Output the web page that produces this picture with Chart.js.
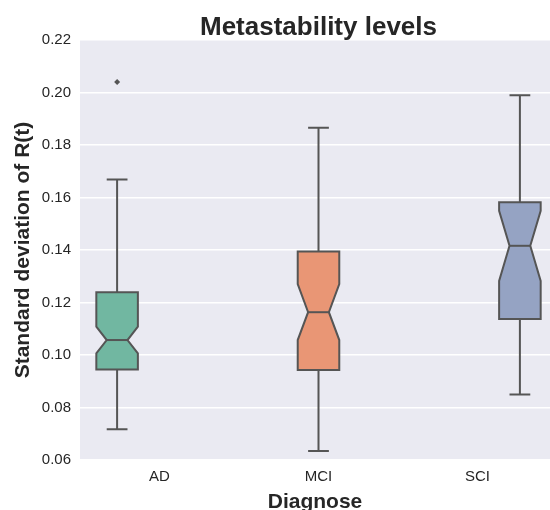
<!DOCTYPE html>
<html>
<head>
<meta charset="utf-8">
<script src="https://cdn.jsdelivr.net/npm/chart.js@4/dist/chart.umd.min.js"></script>
<style>
    html, body { margin: 0; padding: 0; background: #fff; overflow: hidden; }
    #wrap { width: 550px; height: 510px; position: relative; }
</style>
</head>
<body>
<div id="wrap"><canvas id="chart"></canvas></div>
<script>
// カテゴリ
const categories = ['AD', 'MCI', 'SCI'];

// 箱ひげ図の統計値
const whiskerLow  = [0.0717, 0.0634, 0.0850];
const q1          = [0.0945, 0.0943, 0.1137];
const notchLow    = [0.1006, 0.1057, 0.1282];
const median      = [0.1057, 0.1163, 0.1416];
const notchHigh   = [0.1108, 0.1270, 0.1549];
const q3          = [0.1239, 0.1394, 0.1582];
const whiskerHigh = [0.1669, 0.1866, 0.1990];

// 外れ値 (カテゴリ番号, 値)
const outlierCat = [0];
const outlierVal = [0.204];

// 色
const boxColors = ['#71b7a1', '#e99675', '#95a3c3'];
const lineColor = '#555555';
const textColor = '#262626';
const fontFamily = '"Liberation Sans", Arial, sans-serif';
const titleText = 'Metastability levels';

// hue で並べた時のずれ (seaborn の dodge)
const eachWidth = 0.8 / categories.length;
const dodge = categories.map((c, i) => (i - (categories.length - 1) / 2) * eachWidth);
const boxWidth = eachWidth * 0.98;

// 背景
const bgPlugin = {
    id: 'plotBg',
    beforeDraw(chart) {
        const { ctx, chartArea: a } = chart;
        ctx.save();
        ctx.fillStyle = '#eaeaf2';
        ctx.fillRect(a.left, a.top, a.right - a.left, a.bottom - a.top);
        ctx.restore();
    }
};

// タイトル (軸全体の中央に配置)
const titlePlugin = {
    id: 'axesTitle',
    afterDraw(chart) {
        const { ctx } = chart;
        const xs = chart.scales.x;
        const cx = (xs.getPixelForValue(-0.5) + xs.getPixelForValue(categories.length - 0.5)) / 2;
        ctx.save();
        ctx.font = 'bold 26px ' + fontFamily;
        ctx.fillStyle = textColor;
        ctx.textAlign = 'center';
        ctx.textBaseline = 'alphabetic';
        ctx.fillText(titleText, cx, 35);
        ctx.restore();
    }
};

// ノッチ付き箱ひげ図を描画
const boxPlugin = {
    id: 'notchedBox',
    beforeDatasetsDraw(chart) {
        const { ctx } = chart;
        const xs = chart.scales.x;
        const ys = chart.scales.y;
        ctx.save();
        ctx.lineWidth = 2;
        ctx.strokeStyle = lineColor;
        ctx.lineJoin = 'miter';
        categories.forEach((c, i) => {
            const pos = i + dodge[i];
            const cx = xs.getPixelForValue(pos);
            const L = xs.getPixelForValue(pos - boxWidth / 2);
            const R = xs.getPixelForValue(pos + boxWidth / 2);
            const wl = xs.getPixelForValue(pos - boxWidth / 4);
            const wr = xs.getPixelForValue(pos + boxWidth / 4);
            const y = v => ys.getPixelForValue(v);

            // ひげ
            ctx.beginPath();
            ctx.moveTo(cx, y(q3[i]));
            ctx.lineTo(cx, y(whiskerHigh[i]));
            ctx.moveTo(cx, y(q1[i]));
            ctx.lineTo(cx, y(whiskerLow[i]));
            ctx.moveTo(wl, y(whiskerHigh[i]));
            ctx.lineTo(wr, y(whiskerHigh[i]));
            ctx.moveTo(wl, y(whiskerLow[i]));
            ctx.lineTo(wr, y(whiskerLow[i]));
            ctx.stroke();

            // 箱
            ctx.beginPath();
            ctx.moveTo(L, y(q1[i]));
            ctx.lineTo(L, y(notchLow[i]));
            ctx.lineTo(wl, y(median[i]));
            ctx.lineTo(L, y(notchHigh[i]));
            ctx.lineTo(L, y(q3[i]));
            ctx.lineTo(R, y(q3[i]));
            ctx.lineTo(R, y(notchHigh[i]));
            ctx.lineTo(wr, y(median[i]));
            ctx.lineTo(R, y(notchLow[i]));
            ctx.lineTo(R, y(q1[i]));
            ctx.closePath();
            ctx.fillStyle = boxColors[i];
            ctx.fill();
            ctx.stroke();

            // 中央値
            ctx.beginPath();
            ctx.moveTo(wl, y(median[i]));
            ctx.lineTo(wr, y(median[i]));
            ctx.stroke();
        });
        ctx.restore();
    }
};

const ctx = document.getElementById('chart').getContext('2d');
new Chart(ctx, {
    type: 'scatter',
    data: {
        datasets: [{
            data: outlierCat.map((c, k) => ({ x: c + dodge[c], y: outlierVal[k] })),
            pointStyle: 'rectRot',
            radius: 3,
            backgroundColor: lineColor,
            borderWidth: 0
        }]
    },
    options: {
        responsive: true,
        maintainAspectRatio: false,
        animation: false,
        layout: { autoPadding: false, padding: { top: 40, left: 0, right: 0, bottom: 0 } },
        plugins: {
            legend: { display: false },
            tooltip: { enabled: false },
            title: { display: false }
        },
        scales: {
            x: {
                type: 'linear',
                min: -0.5,
                max: 2.456,
                afterBuildTicks(s) {
                    s.ticks = categories.map((c, i) => ({ value: i }));
                },
                afterFit(s) {
                    s.height = 50;
                    s.paddingLeft = 0;
                    s.paddingRight = 0;
                },
                grid: { display: false, drawTicks: false },
                border: { display: false },
                ticks: {
                    autoSkip: false,
                    maxRotation: 0,
                    padding: 8,
                    color: textColor,
                    font: { family: fontFamily, size: 15 },
                    callback: v => categories[v]
                },
                title: {
                    display: true,
                    text: 'Diagnose',
                    color: textColor,
                    font: { family: fontFamily, size: 21, weight: 'bold', lineHeight: 1 },
                    padding: { top: 0, bottom: -3 }
                }
            },
            y: {
                min: 0.06,
                max: 0.22,
                afterFit(s) { s.width = 80; },
                grid: { color: '#ffffff', lineWidth: 1.5, drawTicks: false },
                border: { display: false },
                ticks: {
                    stepSize: 0.02,
                    padding: 9,
                    color: textColor,
                    font: { family: fontFamily, size: 15 },
                    callback: v => v.toFixed(2)
                },
                title: {
                    display: true,
                    text: 'Standard deviation of R(t)',
                    color: textColor,
                    font: { family: fontFamily, size: 21, weight: 'bold', lineHeight: 1 },
                    padding: { top: 13, bottom: 0 }
                }
            }
        }
    },
    plugins: [bgPlugin, boxPlugin, titlePlugin]
});
</script>
</body>
</html>
